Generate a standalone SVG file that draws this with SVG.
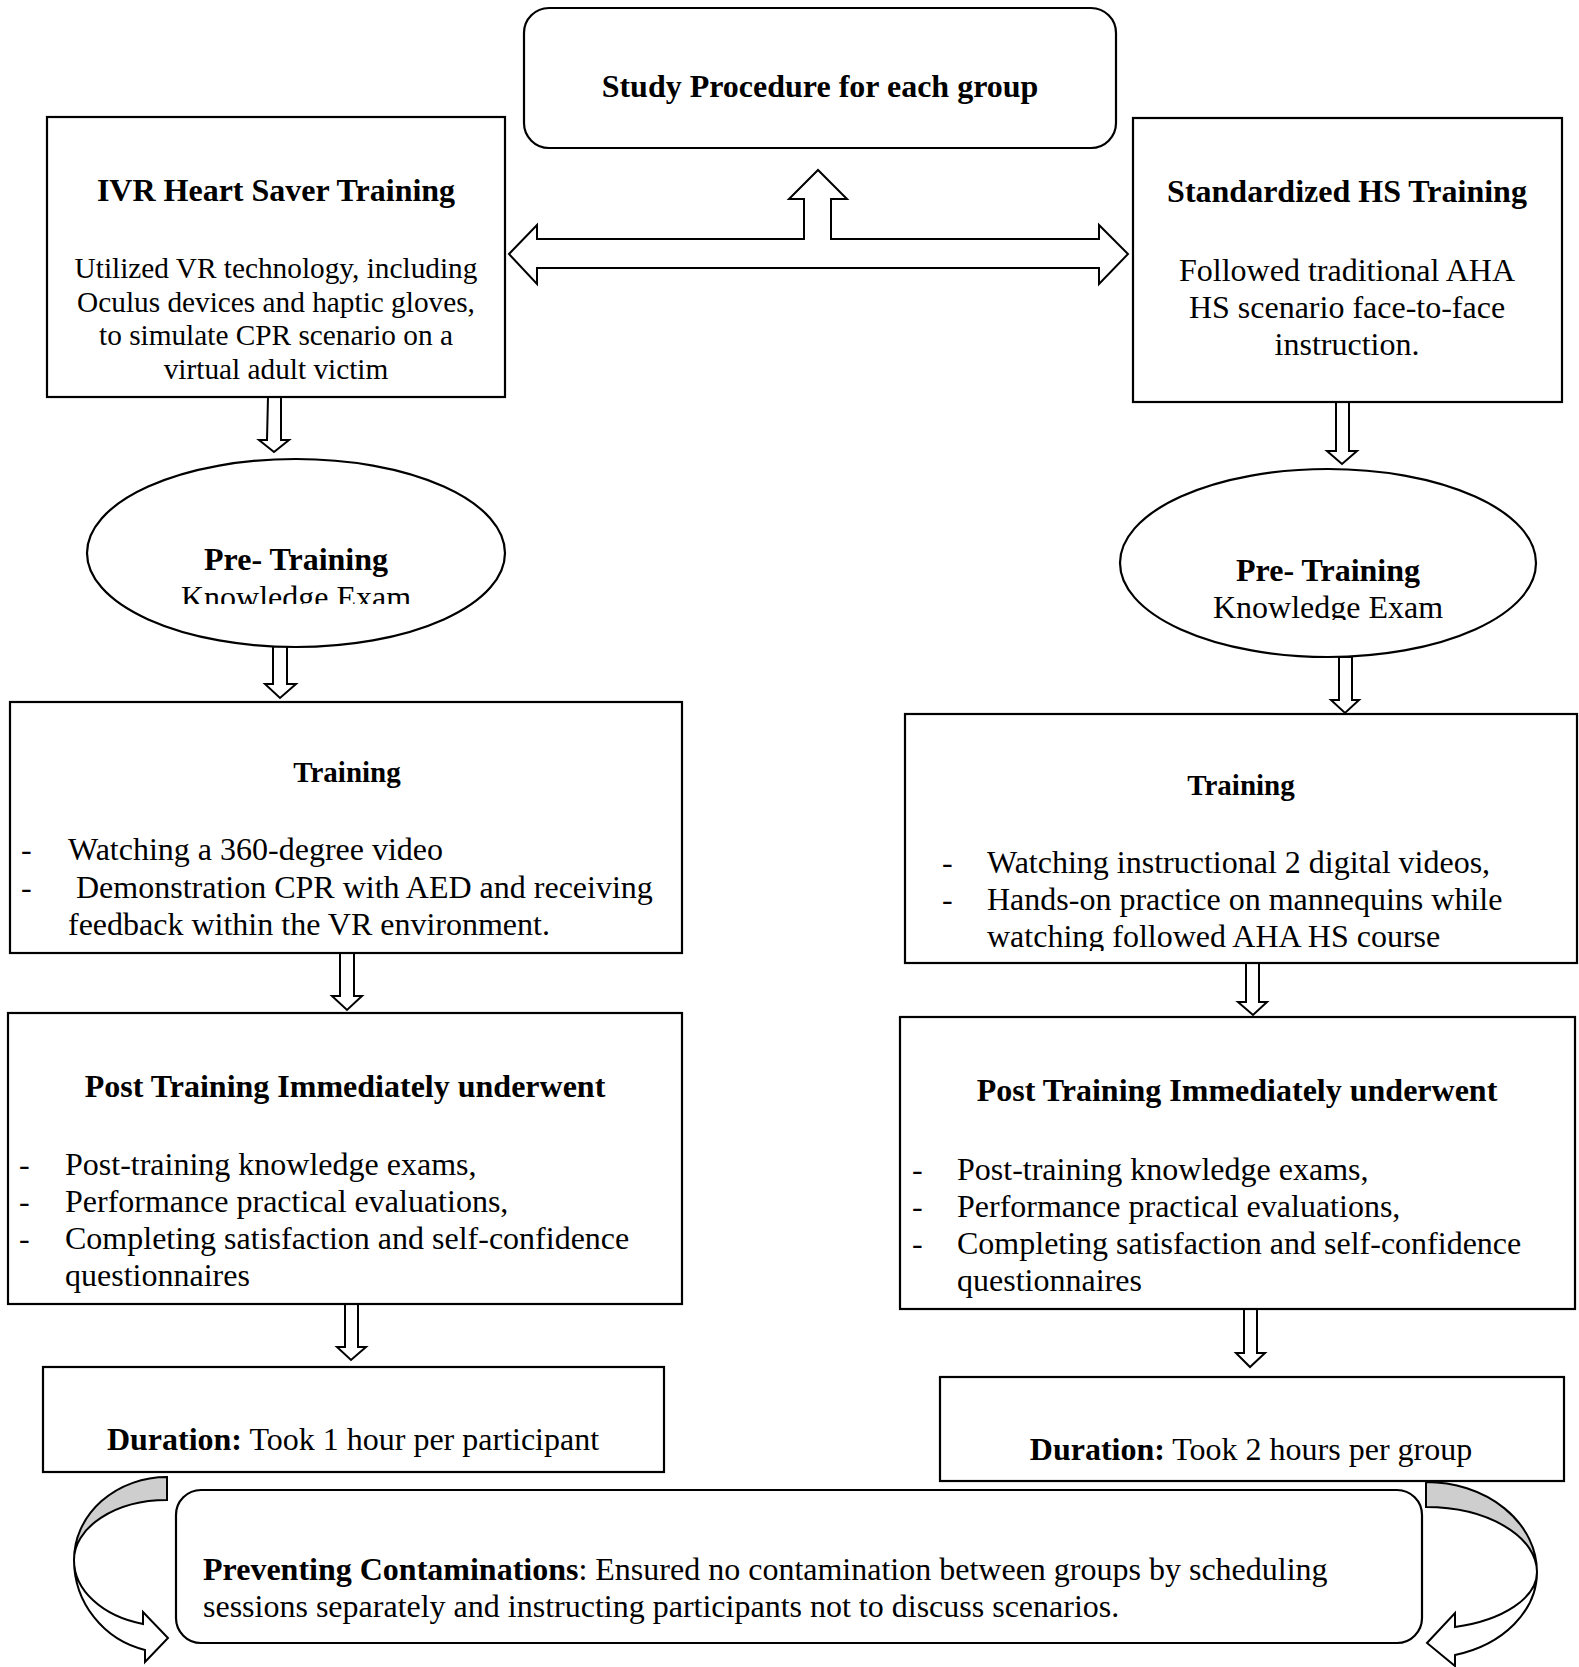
<svg xmlns="http://www.w3.org/2000/svg" width="1579" height="1667" viewBox="0 0 1579 1667">
<style>
  .box{fill:#fff;stroke:#000;stroke-width:2.2}
  .arr{fill:#fff;stroke:#000;stroke-width:2;stroke-linejoin:miter}
  .gray{fill:#cecece;stroke:#000;stroke-width:2}
  text{font-family:"Liberation Serif","Times New Roman",serif;fill:#000}
  .h{font-size:32px;font-weight:bold;text-anchor:middle}
  .h29{font-size:29px;font-weight:bold;text-anchor:middle}
  .b{font-size:32px}
  .bc{font-size:32px;text-anchor:middle}
  .s{font-size:29.3px;text-anchor:middle}
  .bold{font-weight:bold}
</style>
<defs>
  <clipPath id="clipL"><rect x="0" y="0" width="700" height="604"/></clipPath>
  <clipPath id="clipR"><rect x="1000" y="0" width="579" height="620"/></clipPath>
  <clipPath id="clipT"><rect x="900" y="700" width="679" height="251"/></clipPath>
</defs>
<rect width="1579" height="1667" fill="#fff"/>

<g id="connectors">
  <path class="arr" d="M509,254 L537,225 L537,239 L804,239 L804,199 L789,199 L818,170 L847,199 L831,199 L831,239 L1099,239 L1099,225 L1128,254 L1099,284 L1099,268 L537,268 L537,284 Z"/>
  <path class="arr" d="M268,397 L281,397 L281,440 L289,440 L274,452 L259,440 L267,440 Z"/>
  <path class="arr" d="M273,642 L287,642 L287,684 L296,684 L280,698 L265,684 L273,684 Z"/>
  <path class="arr" d="M340,953 L354,953 L354,996 L362,996 L347,1010 L332,996 L340,996 Z"/>
  <path class="arr" d="M345,1304 L358,1304 L358,1347 L366,1347 L351,1360 L337,1347 L345,1347 Z"/>
  <path class="arr" d="M1336,402 L1349,402 L1349,451 L1357,451 L1342,464 L1327,451 L1336,451 Z"/>
  <path class="arr" d="M1339,657 L1352,657 L1352,700 L1359,700 L1345,713 L1331,700 L1339,700 Z"/>
  <path class="arr" d="M1246,963 L1259,963 L1259,1002 L1267,1002 L1253,1015 L1238,1002 L1246,1002 Z"/>
  <path class="arr" d="M1244,1309 L1257,1309 L1257,1353 L1265,1353 L1250,1367 L1236,1353 L1244,1353 Z"/>
  <path class="gray" d="M167,1477 A93,83 0 0 0 74,1560 A93,60 0 0 1 167,1500 Z"/>
  <path class="arr" d="M74,1560 A93,66 0 0 0 143,1624 L143,1612 L168,1638 L145,1662 L145,1650 A93,93 0 0 1 74,1560 Z"/>
  <path class="gray" d="M1426,1482 A111,90 0 0 1 1537,1572 A111,65 0 0 0 1426,1507 Z"/>
  <path class="arr" d="M1537,1572 A111,57 0 0 1 1455,1627 L1455,1613 L1427,1643 L1455,1666 L1455,1655 A111,86 0 0 0 1537,1572 Z"/>
</g>

<g id="study-procedure">
  <rect class="box" x="524" y="8" width="592" height="140" rx="25"/>
  <text class="h" x="820" y="97">Study Procedure for each group</text>
</g>

<g id="ivr-training">
  <rect class="box" x="47" y="117" width="458" height="280"/>
  <text class="h" x="276" y="201">IVR Heart Saver Training</text>
  <text class="s" x="276" y="278">Utilized VR technology, including</text>
  <text class="s" x="276" y="311.5">Oculus devices and haptic gloves,</text>
  <text class="s" x="276" y="345">to simulate CPR scenario on a</text>
  <text class="s" x="276" y="378.5">virtual adult victim</text>
</g>

<g id="standardized-training">
  <rect class="box" x="1133" y="118" width="429" height="284"/>
  <text class="h" x="1347" y="202">Standardized HS Training</text>
  <text class="bc" x="1347" y="281">Followed traditional AHA</text>
  <text class="bc" x="1347" y="318">HS scenario face-to-face</text>
  <text class="bc" x="1347" y="355">instruction.</text>
</g>

<g id="pre-training-left">
  <ellipse class="box" cx="296" cy="553" rx="209" ry="94"/>
  <text class="h" x="296" y="570">Pre- Training</text>
  <text class="bc" x="296" y="608" clip-path="url(#clipL)">Knowledge Exam</text>
</g>

<g id="pre-training-right">
  <ellipse class="box" cx="1328" cy="563" rx="208" ry="94"/>
  <text class="h" x="1328" y="581">Pre- Training</text>
  <text class="bc" x="1328" y="618" clip-path="url(#clipR)">Knowledge Exam</text>
</g>

<g id="training-left">
  <rect class="box" x="10" y="702" width="672" height="251"/>
  <text class="h29" x="347" y="782">Training</text>
  <text class="b" x="21" y="860">-</text>
  <text class="b" x="68" y="860">Watching a 360-degree video</text>
  <text class="b" x="21" y="898">-</text>
  <text class="b" x="76" y="898">Demonstration CPR with AED and receiving</text>
  <text class="b" x="68" y="935">feedback within the VR environment.</text>
</g>

<g id="training-right">
  <rect class="box" x="905" y="714" width="672" height="249"/>
  <text class="h29" x="1241" y="795">Training</text>
  <text class="b" x="942" y="873">-</text>
  <text class="b" x="987" y="873">Watching instructional 2 digital videos,</text>
  <text class="b" x="942" y="910">-</text>
  <text class="b" x="987" y="910">Hands-on practice on mannequins while</text>
  <text class="b" x="987" y="947" clip-path="url(#clipT)">watching followed AHA HS course</text>
</g>

<g id="post-left">
  <rect class="box" x="8" y="1013" width="674" height="291"/>
  <text class="h" x="345" y="1097">Post Training Immediately underwent</text>
  <text class="b" x="19" y="1175">-</text>
  <text class="b" x="65" y="1175">Post-training knowledge exams,</text>
  <text class="b" x="19" y="1212">-</text>
  <text class="b" x="65" y="1212">Performance practical evaluations,</text>
  <text class="b" x="19" y="1249">-</text>
  <text class="b" x="65" y="1249">Completing satisfaction and self-confidence</text>
  <text class="b" x="65" y="1286">questionnaires</text>
</g>

<g id="post-right">
  <rect class="box" x="900" y="1017" width="675" height="292"/>
  <text class="h" x="1237" y="1101">Post Training Immediately underwent</text>
  <text class="b" x="912" y="1180">-</text>
  <text class="b" x="957" y="1180">Post-training knowledge exams,</text>
  <text class="b" x="912" y="1217">-</text>
  <text class="b" x="957" y="1217">Performance practical evaluations,</text>
  <text class="b" x="912" y="1254">-</text>
  <text class="b" x="957" y="1254">Completing satisfaction and self-confidence</text>
  <text class="b" x="957" y="1291">questionnaires</text>
</g>

<g id="duration-left">
  <rect class="box" x="43" y="1367" width="621" height="105"/>
  <text class="bc" x="353" y="1450"><tspan class="bold">Duration:</tspan> Took 1 hour per participant</text>
</g>

<g id="duration-right">
  <rect class="box" x="940" y="1377" width="624" height="104"/>
  <text class="bc" x="1251" y="1460"><tspan class="bold">Duration:</tspan> Took 2 hours per group</text>
</g>

<g id="preventing-contaminations">
  <rect class="box" x="176" y="1490" width="1246" height="153" rx="25"/>
  <text class="b" x="203" y="1580"><tspan class="bold">Preventing Contaminations</tspan>: Ensured no contamination between groups by scheduling</text>
  <text class="b" x="203" y="1617">sessions separately and instructing participants not to discuss scenarios.</text>
</g>
</svg>
